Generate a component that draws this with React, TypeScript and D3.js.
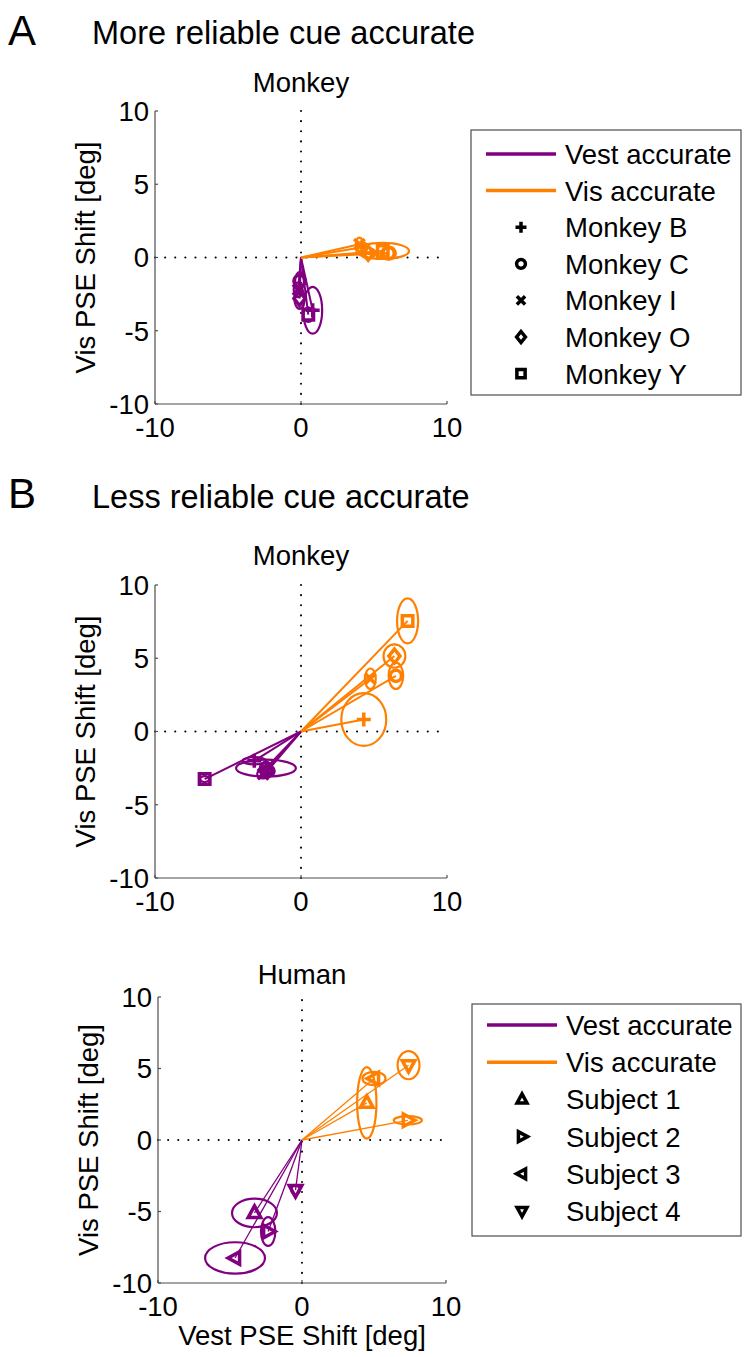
import React from "react";
import * as d3 from "d3";

// ---- shared labels and ticks ----
const SERIES_NAMES = ["Vest accurate", "Vis accurate"];
const MONKEYS = ["Monkey B", "Monkey C", "Monkey I", "Monkey O", "Monkey Y"];
const HUMANS = ["Subject 1", "Subject 2", "Subject 3", "Subject 4"];
const MONKEY_SHAPES = ["plus", "circle", "cross", "diamond", "square"];
const HUMAN_SHAPES = ["triUp", "triRight", "triLeft", "triDown"];
const X_TICKS = [-10, 0, 10];
const Y_TICKS = [-10, -5, 0, 5, 10];
const DOMAIN: [number, number] = [-10, 10];

// ---- A: more reliable cue accurate, monkeys (B, C, I, O, Y) ----
const A_VEST_X = [0.8, -0.1, -0.2, -0.1, 0.5];
const A_VEST_Y = [-3.6, -1.6, -2.2, -2.8, -3.9];
const A_VEST_RX = [0.65, 0.3, 0.3, 0.35, 0.35];
const A_VEST_RY = [1.6, 0.6, 0.5, 0.7, 0.5];
const A_VIS_X = [4.2, 6.0, 4.0, 4.6, 5.6];
const A_VIS_Y = [0.7, 0.3, 0.9, 0.3, 0.45];
const A_VIS_RX = [0.35, 0.5, 0.25, 0.5, 1.8];
const A_VIS_RY = [0.35, 0.45, 0.45, 0.35, 0.55];

// ---- B: less reliable cue accurate, monkeys ----
const BM_VEST_X = [-3.2, -2.4, -2.6, -2.3, -6.6];
const BM_VEST_Y = [-2.0, -2.5, -2.9, -2.7, -3.25];
const BM_VEST_RX = [0.8, 2.05, 0.4, 0.5, 0.3];
const BM_VEST_RY = [0.25, 0.58, 0.3, 0.4, 0.2];
const BM_VIS_X = [4.3, 6.5, 4.75, 6.4, 7.3];
const BM_VIS_Y = [0.82, 3.8, 3.6, 5.15, 7.55];
const BM_VIS_RX = [1.54, 0.5, 0.37, 0.75, 0.72];
const BM_VIS_RY = [1.8, 0.9, 0.7, 0.8, 1.54];

// ---- B: less reliable cue accurate, humans (Subjects 1-4) ----
const BH_VEST_X = [-3.3, -2.35, -4.65, -0.45];
const BH_VEST_Y = [-5.1, -6.4, -8.25, -3.5];
const BH_VEST_RX = [1.56, 0.5, 2.08, 0.3];
const BH_VEST_RY = [1.0, 1.0, 1.1, 0.3];
const BH_VIS_X = [4.5, 7.35, 5.0, 7.4];
const BH_VIS_Y = [2.6, 1.38, 4.3, 5.23];
const BH_VIS_RX = [0.67, 0.98, 0.8, 0.76];
const BH_VIS_RY = [2.5, 0.29, 0.47, 0.98];

const PURPLE = "#800080";
const ORANGE = "#ff8000";
const FONT = "'Liberation Sans', Arial, Helvetica, sans-serif";
const FS = 27.5;

function markerPath(shape: string, s: number): string {
  const p = d3.path();
  switch (shape) {
    case "plus":
      p.moveTo(-s, 0); p.lineTo(s, 0); p.moveTo(0, -s); p.lineTo(0, s);
      break;
    case "cross": {
      const k = s * 0.75;
      p.moveTo(-k, -k); p.lineTo(k, k); p.moveTo(-k, k); p.lineTo(k, -k);
      break;
    }
    case "circle":
      p.arc(0, 0, s * 0.8, 0, Math.PI * 2);
      p.closePath();
      break;
    case "diamond":
      p.moveTo(0, -s); p.lineTo(s * 0.8, 0); p.lineTo(0, s); p.lineTo(-s * 0.8, 0); p.closePath();
      break;
    case "square": {
      const k = s * 0.75;
      p.rect(-k, -k, 2 * k, 2 * k);
      break;
    }
    default: {
      const rot = { triUp: 0, triRight: 90, triDown: 180, triLeft: 270 }[shape] ?? 0;
      const a = (rot * Math.PI) / 180;
      const pts = [
        [0, -s],
        [s * 0.9, s * 0.65],
        [-s * 0.9, s * 0.65],
      ].map(([x, y]) => [x * Math.cos(a) - y * Math.sin(a), x * Math.sin(a) + y * Math.cos(a)]);
      p.moveTo(pts[0][0], pts[0][1]);
      p.lineTo(pts[1][0], pts[1][1]);
      p.lineTo(pts[2][0], pts[2][1]);
      p.closePath();
    }
  }
  return p.toString();
}

type Group = {
  xs: number[]; ys: number[]; rx: number[]; ry: number[]; color: string;
};

type PanelProps = {
  left: number; right: number; top: number; bottom: number;
  title: string; titleY: number;
  groups: Group[]; shapes: string[];
  lineWidth: number; markerSize: number;
  xLabel?: string;
};

function Panel(props: PanelProps) {
  const { left, right, top, bottom, groups, shapes, lineWidth, markerSize } = props;
  const x = d3.scaleLinear().domain(DOMAIN).range([left, right]);
  const y = d3.scaleLinear().domain(DOMAIN).range([bottom, top]);
  const axisColor = "#4d4d4d";
  return (
    <g>
      <text x={x(0)} y={props.titleY} fontSize={FS} textAnchor="middle" fontFamily={FONT}>
        {props.title}
      </text>
      {/* zero reference lines */}
      <line x1={x(-10)} x2={x(10)} y1={y(0)} y2={y(0)} stroke="#000" strokeWidth={2}
        strokeDasharray="0.1 10" strokeLinecap="round" />
      <line x1={x(0)} x2={x(0)} y1={y(-10)} y2={y(10)} stroke="#000" strokeWidth={2}
        strokeDasharray="0.1 10" strokeLinecap="round" />
      {/* axes */}
      <line x1={left} x2={left} y1={top} y2={bottom} stroke={axisColor} strokeWidth={1.2} />
      <line x1={left} x2={right} y1={bottom} y2={bottom} stroke={axisColor} strokeWidth={1.2} />
      {Y_TICKS.map((t) => (
        <g key={"y" + t}>
          <line x1={left} x2={left + 3} y1={y(t)} y2={y(t)} stroke={axisColor} strokeWidth={1.2} />
          <text x={left - 6} y={y(t)} dy="0.36em" fontSize={FS} textAnchor="end" fontFamily={FONT}>
            {t}
          </text>
        </g>
      ))}
      {X_TICKS.map((t) => (
        <g key={"x" + t}>
          <line x1={x(t)} x2={x(t)} y1={bottom} y2={bottom - 3} stroke={axisColor} strokeWidth={1.2} />
          <text x={x(t)} y={bottom + 33} fontSize={FS} textAnchor="middle" fontFamily={FONT}>
            {t}
          </text>
        </g>
      ))}
      <text transform={`translate(${left - 60},${y(0)}) rotate(-90)`} fontSize={FS}
        textAnchor="middle" fontFamily={FONT}>
        Vis PSE Shift [deg]
      </text>
      {props.xLabel && (
        <text x={x(0)} y={bottom + 62} fontSize={FS} textAnchor="middle" fontFamily={FONT}>
          {props.xLabel}
        </text>
      )}
      {groups.map((g, gi) => (
        <g key={gi} stroke={g.color} fill="none">
          {g.xs.map((vx, i) => (
            <line key={"l" + i} x1={x(0)} y1={y(0)} x2={x(vx)} y2={y(g.ys[i])}
              strokeWidth={lineWidth} />
          ))}
          {g.xs.map((vx, i) => (
            <ellipse key={"e" + i} cx={x(vx)} cy={y(g.ys[i])}
              rx={x(vx + g.rx[i]) - x(vx)} ry={y(g.ys[i]) - y(g.ys[i] + g.ry[i])}
              strokeWidth={2.2} />
          ))}
          {g.xs.map((vx, i) => (
            <path key={"m" + i} d={markerPath(shapes[i], markerSize)}
              transform={`translate(${x(vx)},${y(g.ys[i])})`} strokeWidth={3.5}
              strokeLinejoin="miter" />
          ))}
        </g>
      ))}
    </g>
  );
}

type LegendProps = { left: number; top: number; right: number; bottom: number; firstY: number; step: number; names: string[]; shapes: string[] };

function Legend(props: LegendProps) {
  const { left, top, right, bottom, firstY, step, names, shapes } = props;
  const rows = [...SERIES_NAMES, ...names];
  const yRow = d3.scaleLinear().domain([0, 1]).range([firstY, firstY + step]);
  const lineX1 = left + 15, lineX2 = left + 85, markX = left + 50, textX = left + 94;
  return (
    <g fontFamily={FONT} fontSize={FS}>
      <rect x={left} y={top} width={right - left} height={bottom - top} fill="#fff" stroke="#4d4d4d" strokeWidth={1.2} />
      {rows.map((name, i) => (
        <g key={name}>
          {i < 2 ? (
            <line x1={lineX1} x2={lineX2} y1={yRow(i)} y2={yRow(i)} stroke={i === 0 ? PURPLE : ORANGE} strokeWidth={3.5} />
          ) : (
            <path d={markerPath(shapes[i - 2], 5.5)} transform={`translate(${markX},${yRow(i)})`}
              fill="none" stroke="#000" strokeWidth={3.5} />
          )}
          <text x={textX} y={yRow(i)} dy="0.36em">{name}</text>
        </g>
      ))}
    </g>
  );
}

export default function App() {
  return (
    <svg width={744} height={1357} viewBox="0 0 744 1357"
      style={{ position: "absolute", left: 0, top: 0, background: "#fff" }}>
      <rect width={744} height={1357} fill="#fff" />
      <g fontFamily={FONT}>
        <text x={8} y={45} fontSize={42}>A</text>
        <text x={92} y={44} fontSize={32.5}>More reliable cue accurate</text>
        <text x={8} y={508} fontSize={42}>B</text>
        <text x={92} y={508} fontSize={32.5}>Less reliable cue accurate</text>
      </g>
      <Panel left={155} right={447} top={111} bottom={404} title="Monkey" titleY={92}
        shapes={MONKEY_SHAPES} lineWidth={2} markerSize={7}
        groups={[
          { xs: A_VEST_X, ys: A_VEST_Y, rx: A_VEST_RX, ry: A_VEST_RY, color: PURPLE },
          { xs: A_VIS_X, ys: A_VIS_Y, rx: A_VIS_RX, ry: A_VIS_RY, color: ORANGE },
        ]} />
      <Legend left={471} top={130} right={741} bottom={395} firstY={154} step={36.6}
        names={MONKEYS} shapes={MONKEY_SHAPES} />
      <Panel left={155} right={447} top={585} bottom={878} title="Monkey" titleY={565}
        shapes={MONKEY_SHAPES} lineWidth={2} markerSize={7}
        groups={[
          { xs: BM_VEST_X, ys: BM_VEST_Y, rx: BM_VEST_RX, ry: BM_VEST_RY, color: PURPLE },
          { xs: BM_VIS_X, ys: BM_VIS_Y, rx: BM_VIS_RX, ry: BM_VIS_RY, color: ORANGE },
        ]} />
      <Panel left={158} right={446} top={997} bottom={1283} title="Human" titleY={984}
        shapes={HUMAN_SHAPES} lineWidth={1.3} markerSize={7}
        xLabel="Vest PSE Shift [deg]"
        groups={[
          { xs: BH_VEST_X, ys: BH_VEST_Y, rx: BH_VEST_RX, ry: BH_VEST_RY, color: PURPLE },
          { xs: BH_VIS_X, ys: BH_VIS_Y, rx: BH_VIS_RX, ry: BH_VIS_RY, color: ORANGE },
        ]} />
      <Legend left={472} top={1004} right={741} bottom={1236} firstY={1025} step={37.2}
        names={HUMANS} shapes={HUMAN_SHAPES} />
    </svg>
  );
}
